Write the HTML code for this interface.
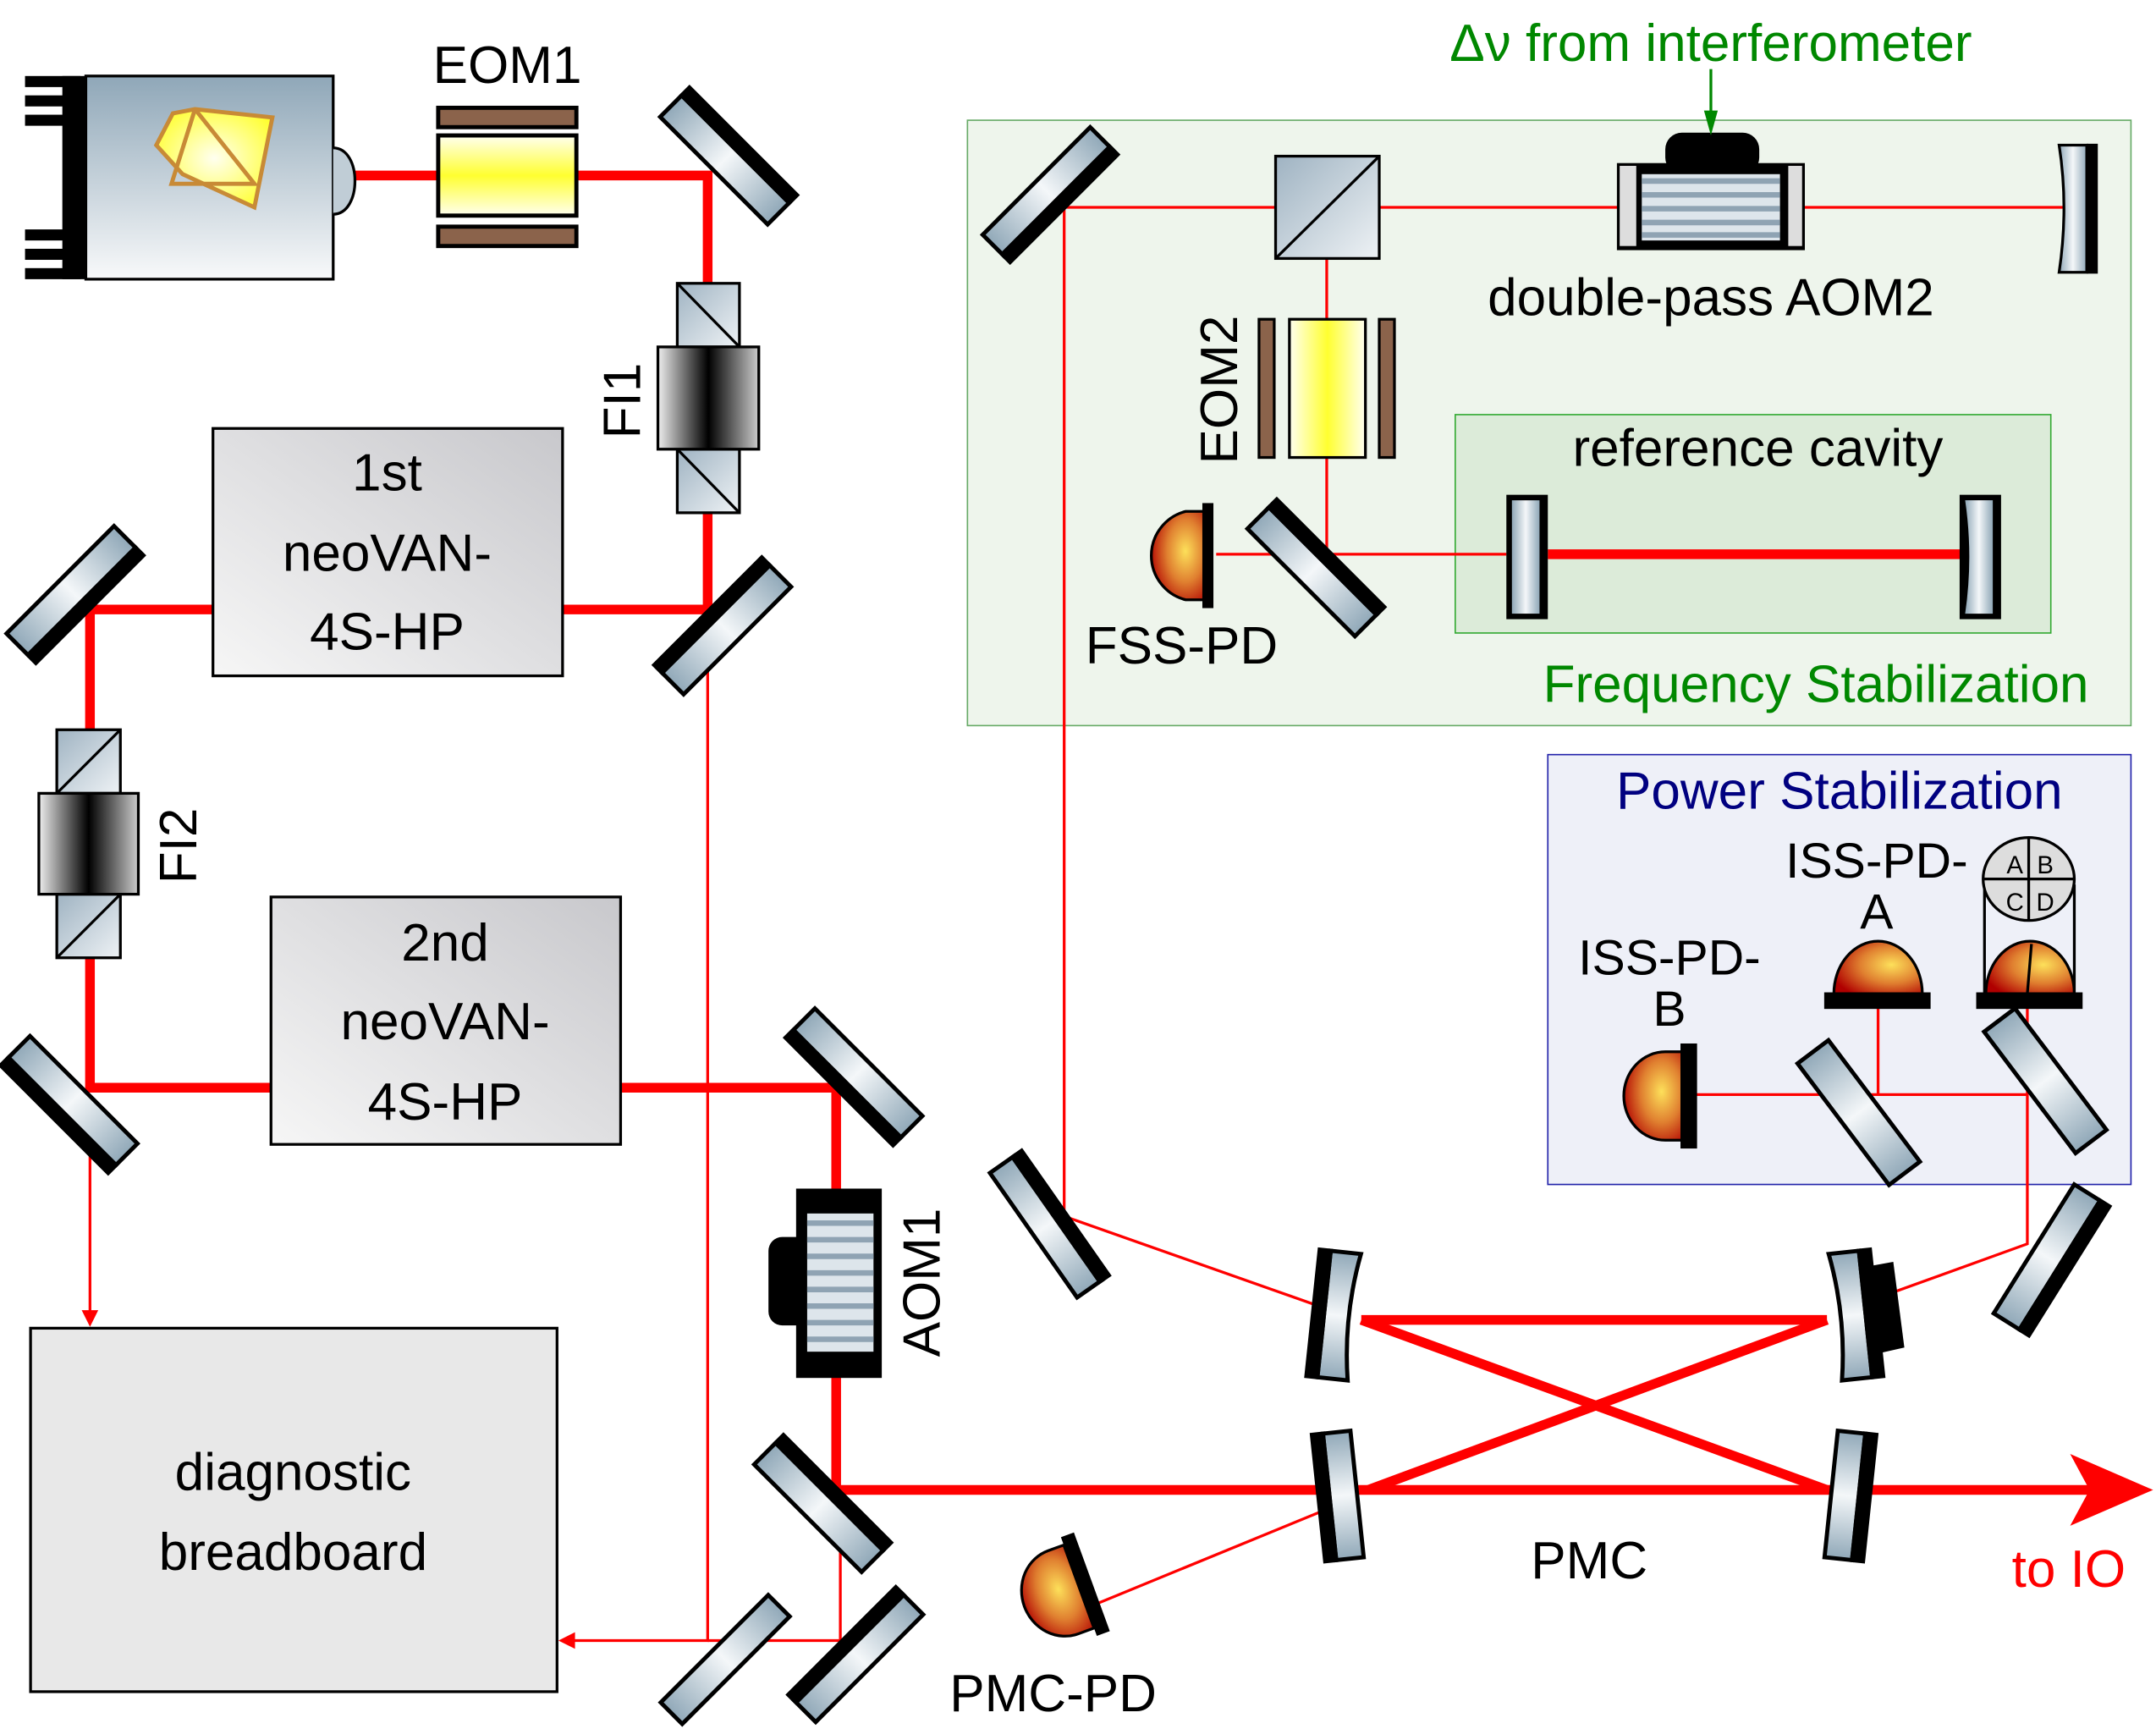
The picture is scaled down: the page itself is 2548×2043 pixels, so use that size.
<!DOCTYPE html>
<html><head><meta charset="utf-8"><style>html,body{margin:0;padding:0;background:#fff}svg{display:block}text{font-family:"Liberation Sans","DejaVu Sans",sans-serif}</style></head>
<body>
<svg width="2548" height="2043" viewBox="0 0 1560 1251" xmlns="http://www.w3.org/2000/svg">
<defs>
<linearGradient id="mg" x1="0" y1="0" x2="1" y2="0"><stop offset="0" stop-color="#90a8b8"/><stop offset="0.5" stop-color="#f4f7f9"/><stop offset="1" stop-color="#90a8b8"/></linearGradient>
<linearGradient id="lz" x1="0" y1="0" x2="0" y2="1"><stop offset="0" stop-color="#8fa7b8"/><stop offset="1" stop-color="#f8f9fa"/></linearGradient>
<linearGradient id="yel" x1="0" y1="0" x2="0" y2="1"><stop offset="0" stop-color="#fffff0"/><stop offset="0.5" stop-color="#ffff30"/><stop offset="1" stop-color="#fffff0"/></linearGradient>
<linearGradient id="yelv" x1="0" y1="0" x2="1" y2="0"><stop offset="0" stop-color="#fffff0"/><stop offset="0.5" stop-color="#ffff30"/><stop offset="1" stop-color="#fffff0"/></linearGradient>
<linearGradient id="fi" x1="0" y1="0" x2="1" y2="0"><stop offset="0" stop-color="#eee"/><stop offset="0.5" stop-color="#000"/><stop offset="1" stop-color="#ccc"/></linearGradient>
<linearGradient id="box" x1="0" y1="1" x2="1" y2="0"><stop offset="0" stop-color="#f6f6f6"/><stop offset="1" stop-color="#c8c8cc"/></linearGradient>
<linearGradient id="bs" x1="0" y1="0" x2="1" y2="1"><stop offset="0" stop-color="#9fb3c2"/><stop offset="1" stop-color="#eef2f5"/></linearGradient>
<radialGradient id="pd" cx="0.65" cy="0.45" r="0.7"><stop offset="0" stop-color="#fde05a"/><stop offset="0.5" stop-color="#e08030"/><stop offset="1" stop-color="#b00000"/></radialGradient>
<radialGradient id="cr" cx="0.5" cy="0.5" r="0.6"><stop offset="0" stop-color="#fffff0"/><stop offset="1" stop-color="#ffff30"/></radialGradient>
</defs>

<rect x="700" y="87" width="842" height="438" fill="#eef5ec" stroke="#6a6" stroke-width="1"/>
<rect x="1053" y="300" width="431" height="158" fill="#dcebd9" stroke="#3a3" stroke-width="1"/>
<rect x="1120" y="546" width="422" height="311" fill="#eef0f8" stroke="#22a" stroke-width="1"/>

<g stroke="#f00" stroke-width="7" fill="none">
<polyline points="250,127 512,127 512,441 405,441"/>
<polyline points="155,441 65,441 65,787 197,787"/>
<polyline points="448,787 605,787 605,1078 1520,1078"/>
<line x1="985" y1="955" x2="1322" y2="955"/>
<line x1="985" y1="955" x2="1322" y2="1078"/>
<line x1="990" y1="1078" x2="1322" y2="955"/>
<line x1="1120" y1="401" x2="1422" y2="401"/>
</g>
<polygon points="1498,1052 1558,1078 1498,1104 1512,1078" fill="#f00"/>
<g stroke="#f00" stroke-width="2" fill="none">
<polyline points="512,441 512,1187 412,1187"/>
<line x1="608" y1="1090" x2="608" y2="1187"/><line x1="512" y1="1187" x2="608" y2="1187"/>
<line x1="65" y1="797" x2="65" y2="952"/>
<polyline points="1495,150 770,150 770,880 960,947"/>
<polyline points="960,150 960,401 880,401"/>
<line x1="960" y1="401" x2="1090" y2="401"/>
<line x1="960" y1="1092" x2="775" y2="1168"/>
<polyline points="1370,935 1467,900 1467,725"/>
<line x1="1225" y1="792" x2="1467" y2="792"/>
<line x1="1359" y1="792" x2="1359" y2="725"/>
</g>
<polygon points="59,948 65,960 71,948" fill="#f00"/>
<polygon points="416,1181 404,1187 416,1193" fill="#f00"/>

<!-- laser -->
<rect x="18" y="55" width="40" height="8" fill="#000"/><rect x="18" y="69" width="40" height="8" fill="#000"/><rect x="18" y="83" width="40" height="8" fill="#000"/>
<rect x="18" y="166" width="40" height="8" fill="#000"/><rect x="18" y="180" width="40" height="8" fill="#000"/><rect x="18" y="194" width="40" height="8" fill="#000"/>
<rect x="45" y="55" width="17" height="147" fill="#000"/>
<rect x="62" y="55" width="179" height="147" fill="url(#lz)" stroke="#000" stroke-width="2"/>
<path d="M241,107 C262,107 262,155 241,155" fill="#c0cdd6" stroke="#000" stroke-width="2"/>
<polygon points="197,85 184,150 132,126 113,105 125,82 141,79 197,85" fill="url(#cr)" stroke="#c88a36" stroke-width="3"/>
<polyline points="141,79 124,133 184,133 141,79" fill="none" stroke="#c88a36" stroke-width="3"/>
<rect x="317" y="78" width="100" height="14" fill="#8b634b" stroke="#000" stroke-width="3"/>
<rect x="317" y="164" width="100" height="14" fill="#8b634b" stroke="#000" stroke-width="3"/>
<rect x="317" y="98" width="100" height="58" fill="url(#yel)" stroke="#000" stroke-width="3"/>
<text x="367" y="60" font-size="38" text-anchor="middle">EOM1</text>

<g stroke="#000" stroke-width="3">
<g transform="translate(525,115) rotate(45)"><rect x="-55" y="-10" width="110" height="22" fill="url(#mg)"/><rect x="-55" y="-18" width="110" height="8" fill="#000"/></g>
<g transform="translate(525,455) rotate(-45)"><rect x="-55" y="-10" width="110" height="22" fill="url(#mg)"/><rect x="-55" y="-18" width="110" height="8" fill="#000"/></g>
<g transform="translate(52,428) rotate(-45)"><rect x="-55" y="-12" width="110" height="22" fill="url(#mg)"/><rect x="-55" y="10" width="110" height="8" fill="#000"/></g>
<g transform="translate(52,797) rotate(45)"><rect x="-55" y="-12" width="110" height="22" fill="url(#mg)"/><rect x="-55" y="10" width="110" height="8" fill="#000"/></g>
<g transform="translate(620,777) rotate(45)"><rect x="-55" y="-12" width="110" height="22" fill="url(#mg)"/><rect x="-55" y="10" width="110" height="8" fill="#000"/></g>
<g transform="translate(593,1090) rotate(45)"><rect x="-55" y="-10" width="110" height="22" fill="url(#mg)"/><rect x="-55" y="-18" width="110" height="8" fill="#000"/></g>
<g transform="translate(524,1200) rotate(-45)"><rect x="-55" y="-10" width="110" height="22" fill="url(#mg)"/></g>
<g transform="translate(622,1200) rotate(-45)"><rect x="-55" y="-12" width="110" height="22" fill="url(#mg)"/><rect x="-55" y="-18" width="110" height="8" fill="#000"/></g>
<g transform="translate(756,888) rotate(55)"><rect x="-55" y="-12" width="110" height="22" fill="url(#mg)"/><rect x="-55" y="-18" width="110" height="8" fill="#000"/></g>
<g transform="translate(1482,910) rotate(-58)"><rect x="-55" y="-12" width="110" height="22" fill="url(#mg)"/><rect x="-55" y="10" width="110" height="8" fill="#000"/></g>
<g transform="translate(757,138) rotate(-45)"><rect x="-55" y="-10" width="110" height="22" fill="url(#mg)"/><rect x="-55" y="10" width="110" height="8" fill="#000"/></g>
<g transform="translate(950,413) rotate(45)"><rect x="-55" y="-10" width="110" height="22" fill="url(#mg)"/><rect x="-55" y="-18" width="110" height="8" fill="#000"/></g>
<g transform="translate(1345,805) rotate(53)"><rect x="-55" y="-14" width="110" height="28" fill="url(#mg)"/></g>
<g transform="translate(1480,782) rotate(53)"><rect x="-55" y="-14" width="110" height="28" fill="url(#mg)"/></g>
<g transform="translate(970,952) rotate(96)"><path d="M-46,-10 Q0,-2 46,-10 L46,12 L-46,12 Z" fill="url(#mg)"/><rect x="-46" y="12" width="92" height="8" fill="#000"/></g>
<g transform="translate(1338,952) rotate(-96)"><path d="M-46,-10 Q0,-2 46,-10 L46,12 L-46,12 Z" fill="url(#mg)"/><rect x="-46" y="12" width="92" height="8" fill="#000"/></g>
<g transform="translate(972,1082) rotate(84)"><rect x="-46" y="-10" width="92" height="20" fill="url(#mg)"/><rect x="-46" y="10" width="92" height="8" fill="#000"/></g>
<g transform="translate(1335,1082) rotate(-84)"><rect x="-46" y="-10" width="92" height="20" fill="url(#mg)"/><rect x="-46" y="10" width="92" height="8" fill="#000"/></g>
</g>
<polygon points="1348,917 1370,913 1378,975 1356,980" fill="#000"/>

<g stroke="#000" stroke-width="2">
<rect x="490" y="205" width="45" height="46" fill="url(#bs)"/><line x1="490" y1="205" x2="535" y2="251"/>
<rect x="490" y="325" width="45" height="46" fill="url(#bs)"/><line x1="490" y1="325" x2="535" y2="371"/>
<rect x="476" y="251" width="73" height="74" fill="url(#fi)"/>
<rect x="41" y="528" width="46" height="46" fill="url(#bs)"/><line x1="87" y1="528" x2="41" y2="574"/>
<rect x="41" y="647" width="46" height="46" fill="url(#bs)"/><line x1="87" y1="647" x2="41" y2="693"/>
<rect x="28" y="574" width="72" height="73" fill="url(#fi)"/>
</g>
<text transform="translate(463,290) rotate(-90)" font-size="38" text-anchor="middle">FI1</text>
<text transform="translate(142,612) rotate(-90)" font-size="38" text-anchor="middle">FI2</text>

<rect x="154" y="310" width="253" height="179" fill="url(#box)" stroke="#000" stroke-width="2"/>
<text x="280" y="355" font-size="38" text-anchor="middle">1st</text>
<text x="280" y="413" font-size="38" text-anchor="middle">neoVAN-</text>
<text x="280" y="470" font-size="38" text-anchor="middle">4S-HP</text>
<rect x="196" y="649" width="253" height="179" fill="url(#box)" stroke="#000" stroke-width="2"/>
<text x="322" y="695" font-size="38" text-anchor="middle">2nd</text>
<text x="322" y="752" font-size="38" text-anchor="middle">neoVAN-</text>
<text x="322" y="810" font-size="38" text-anchor="middle">4S-HP</text>
<rect x="22" y="961" width="381" height="263" fill="#e8e8e8" stroke="#000" stroke-width="2"/>
<text x="212" y="1078" font-size="38" text-anchor="middle">diagnostic</text>
<text x="212" y="1136" font-size="38" text-anchor="middle">breadboard</text>

<!-- AOM1 -->
<rect x="556" y="895" width="30" height="64" rx="10" fill="#000"/>
<rect x="576" y="860" width="62" height="137" fill="#000"/>
<rect x="584" y="878" width="48" height="100" fill="#dde5eb"/>
<g stroke="#8fa3b3" stroke-width="4"><line x1="584" y1="885" x2="632" y2="885"/><line x1="584" y1="897" x2="632" y2="897"/><line x1="584" y1="909" x2="632" y2="909"/><line x1="584" y1="921" x2="632" y2="921"/><line x1="584" y1="933" x2="632" y2="933"/><line x1="584" y1="945" x2="632" y2="945"/><line x1="584" y1="957" x2="632" y2="957"/><line x1="584" y1="969" x2="632" y2="969"/></g>
<text transform="translate(680,928) rotate(-90)" font-size="38" text-anchor="middle">AOM1</text>

<rect x="923" y="113" width="75" height="74" fill="url(#bs)" stroke="#000" stroke-width="2"/><line x1="998" y1="113" x2="923" y2="187" stroke="#000" stroke-width="2"/>
<rect x="1205" y="96" width="68" height="30" rx="12" fill="#000"/>
<rect x="1170" y="118" width="136" height="63" fill="#000"/>
<rect x="1172" y="120" width="12" height="58" fill="#ddd"/><rect x="1294" y="120" width="10" height="58" fill="#ddd"/>
<rect x="1188" y="126" width="100" height="48" fill="#dde5eb"/>
<g stroke="#8fa3b3" stroke-width="4"><line x1="1188" y1="131" x2="1288" y2="131"/><line x1="1188" y1="141" x2="1288" y2="141"/><line x1="1188" y1="151" x2="1288" y2="151"/><line x1="1188" y1="161" x2="1288" y2="161"/><line x1="1188" y1="170" x2="1288" y2="170"/></g>
<line x1="1238" y1="50" x2="1238" y2="88" stroke="#080" stroke-width="2"/><polygon points="1233,80 1238,98 1243,80" fill="#080"/>
<text x="1238" y="44" font-size="38" text-anchor="middle" fill="#080">Δν from interferometer</text>
<text x="1238" y="228" font-size="38" text-anchor="middle">double-pass AOM2</text>
<g transform="translate(1500,150)"><path d="M-10,-45 L10,-45 L10,47 L-10,47 Q-3,0 -10,-45 Z" fill="url(#mg)" stroke="#000" stroke-width="2"/><rect x="10" y="-46" width="8" height="94" fill="#000"/></g>
<rect x="911" y="231" width="11" height="100" fill="#8b634b" stroke="#000" stroke-width="2"/>
<rect x="998" y="231" width="11" height="100" fill="#8b634b" stroke="#000" stroke-width="2"/>
<rect x="933" y="231" width="55" height="100" fill="url(#yelv)" stroke="#000" stroke-width="2"/>
<text transform="translate(895,282) rotate(-90)" font-size="38" text-anchor="middle">EOM2</text>
<rect x="1090" y="358" width="30" height="90" fill="#000"/><rect x="1094" y="362" width="20" height="82" fill="url(#mg)"/>
<rect x="1418" y="358" width="30" height="90" fill="#000"/><path d="M1422,362 L1442,362 L1442,444 L1422,444 Q1428,403 1422,362 Z" fill="url(#mg)"/>
<text x="1272" y="337" font-size="38" text-anchor="middle">reference cavity</text>
<text x="1314" y="508" font-size="38" text-anchor="middle" fill="#080">Frequency Stabilization</text>
<path d="M871,370 L858,370 A33,33 0 0 0 858,434 L871,434 Z" fill="url(#pd)" stroke="#000" stroke-width="2"/><rect x="870" y="364" width="8" height="76" fill="#000"/>
<text x="855" y="480" font-size="38" text-anchor="middle">FSS-PD</text>

<text x="1331" y="585" font-size="38" text-anchor="middle" fill="#000080">Power Stabilization</text>
<text x="1358" y="635" font-size="36" text-anchor="middle">ISS-PD-</text>
<text x="1358" y="672" font-size="36" text-anchor="middle">A</text>
<text x="1208" y="705" font-size="36" text-anchor="middle">ISS-PD-</text>
<text x="1208" y="742" font-size="36" text-anchor="middle">B</text>
<path d="M1327,719 A32,38 0 0 1 1391,719 Z" fill="url(#pd)" stroke="#000" stroke-width="2"/><rect x="1320" y="718" width="77" height="12" fill="#000"/>
<path d="M1437,719 A32,38 0 0 1 1501,719 Z" fill="url(#pd)" stroke="#000" stroke-width="2"/><line x1="1470" y1="683" x2="1467" y2="719" stroke="#000" stroke-width="2"/>
<rect x="1430" y="718" width="77" height="12" fill="#000"/>
<line x1="1436" y1="640" x2="1436" y2="719" stroke="#000" stroke-width="2"/><line x1="1501" y1="640" x2="1501" y2="719" stroke="#000" stroke-width="2"/>
<ellipse cx="1468" cy="636" rx="33" ry="30" fill="#ddd" stroke="#000" stroke-width="2"/>
<line x1="1468" y1="606" x2="1468" y2="666" stroke="#000" stroke-width="2"/><line x1="1435" y1="636" x2="1501" y2="636" stroke="#000" stroke-width="2"/>
<text x="1458" y="632" font-size="18" text-anchor="middle">A</text><text x="1480" y="632" font-size="18" text-anchor="middle">B</text>
<text x="1458" y="659" font-size="18" text-anchor="middle">C</text><text x="1480" y="659" font-size="18" text-anchor="middle">D</text>
<path d="M1217,761 L1205,761 A30,32 0 0 0 1205,825 L1217,825 Z" fill="url(#pd)" stroke="#000" stroke-width="2"/><rect x="1216" y="755" width="12" height="76" fill="#000"/>

<g transform="translate(775,1150) rotate(-20)"><path d="M6,-32 L-6,-32 A30,32 0 0 0 -6,32 L6,32 Z" fill="url(#pd)" stroke="#000" stroke-width="2"/><rect x="6" y="-38" width="10" height="76" fill="#000"/></g>
<text x="762" y="1238" font-size="38" text-anchor="middle">PMC-PD</text>
<text x="1150" y="1142" font-size="38" text-anchor="middle">PMC</text>
<text x="1497" y="1148" font-size="38" text-anchor="middle" fill="#f00">to IO</text>
</svg>
</body></html>
